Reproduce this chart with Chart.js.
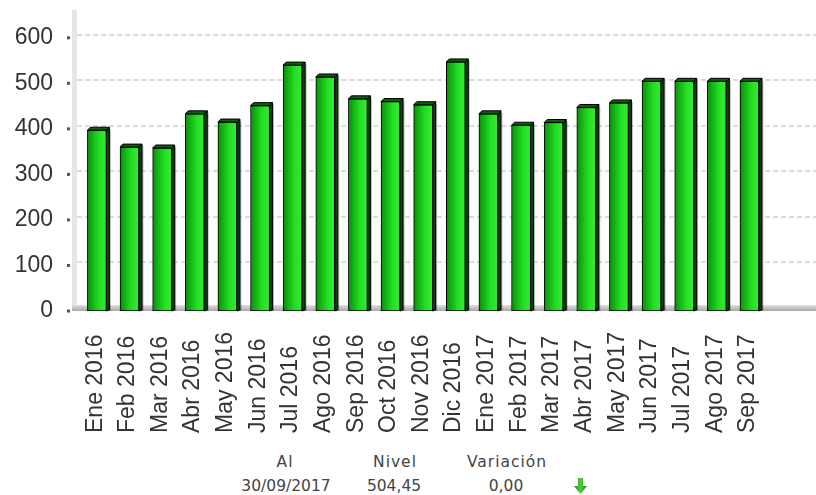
<!DOCTYPE html>
<html>
<head>
<meta charset="utf-8">
<script src="https://cdn.jsdelivr.net/npm/chart.js@4.4.1/dist/chart.umd.min.js"></script>
<style>
    body { margin: 0; background: #fff; }
    #wrap { position: relative; width: 816px; height: 495px; }
    #box { position: absolute; left: 0; top: 0; width: 816px; height: 445px; }
    .info { position: absolute; font-family: "DejaVu Sans", Verdana, sans-serif; font-size: 15.5px; color: #444; transform: translateX(-50%); white-space: nowrap; }
    .head { letter-spacing: 1px; }
    #arrow { position: absolute; left: 574px; top: 478px; }
</style>
</head>
<body>
<div id="wrap">
    <div id="box"><canvas id="chart"></canvas></div>
    <div class="info head" style="left:285px; top:453px;">Al</div>
    <div class="info head" style="left:395px; top:453px;">Nivel</div>
    <div class="info head" style="left:507px; top:453px;">Variación</div>
    <div class="info" style="left:286px; top:477px;">30/09/2017</div>
    <div class="info" style="left:394px; top:477px;">504,45</div>
    <div class="info" style="left:506px; top:477px;">0,00</div>
    <svg id="arrow" width="13" height="16" viewBox="0 0 13 16">
        <defs>
            <linearGradient id="ag" x1="0" y1="0" x2="1" y2="0">
                <stop offset="0" stop-color="#1c8a1c"/>
                <stop offset="0.5" stop-color="#4ccf3a"/>
                <stop offset="1" stop-color="#1f7a1f"/>
            </linearGradient>
        </defs>
        <polygon points="4,0 9,0 9,8 13,8 6.5,16 0,8 4,8" fill="url(#ag)"/>
    </svg>
</div>
<script>
const months = ["Ene 2016", "Feb 2016", "Mar 2016", "Abr 2016", "May 2016", "Jun 2016",
    "Jul 2016", "Ago 2016", "Sep 2016", "Oct 2016", "Nov 2016", "Dic 2016",
    "Ene 2017", "Feb 2017", "Mar 2017", "Abr 2017", "May 2017", "Jun 2017",
    "Jul 2017", "Ago 2017", "Sep 2017"];
const nivel = [397, 360, 358, 433, 415, 451, 540, 514, 466, 460, 453, 547,
    433, 408, 414, 447, 457, 504.45, 504.45, 504.45, 504.45];
const yTicks = [0, 100, 200, 300, 400, 500, 600];

const textColor = "#333";
const labelFont = '23px "Liberation Sans", Arial, sans-serif';

// fake 3D: wall, floor, dashed grid, tick marks, bar sides and x labels
const look3d = {
    id: "look3d",
    beforeDatasetsDraw(chart) {
        const { ctx, chartArea, scales } = chart;
        const y = scales.y;
        ctx.save();
        ctx.fillStyle = "#e6e6e6";
        ctx.fillRect(chartArea.left - 5, 10, 5, chartArea.bottom - 10);
        const fg = ctx.createLinearGradient(0, chartArea.bottom - 6, 0, chartArea.bottom);
        fg.addColorStop(0, "#e0e0e0");
        fg.addColorStop(1, "#a8a8a8");
        ctx.fillStyle = fg;
        ctx.fillRect(chartArea.left - 5, chartArea.bottom - 6, chartArea.right - chartArea.left + 5, 6);
        ctx.strokeStyle = "#dcdcdc";
        ctx.lineWidth = 2;
        ctx.setLineDash([5, 3]);
        yTicks.forEach((t) => {
            if (t === 0) return;
            const py = Math.round(y.getPixelForValue(t) - 3);
            ctx.beginPath();
            ctx.moveTo(chartArea.left, py);
            ctx.lineTo(chartArea.right, py);
            ctx.stroke();
        });
        ctx.setLineDash([]);
        ctx.fillStyle = "#555";
        yTicks.forEach((t) => {
            const py = y.getPixelForValue(t);
            ctx.fillRect(chartArea.left - 10, py - 1.5, 3, 3);
        });
        ctx.restore();
    },
    afterDatasetsDraw(chart) {
        const { ctx } = chart;
        const d = 3;
        ctx.save();
        ctx.lineWidth = 1;
        chart.getDatasetMeta(0).data.forEach((bar) => {
            const l = bar.x - bar.width / 2;
            const r = bar.x + bar.width / 2;
            const top = bar.y;
            const base = bar.base;
            // shadow
            ctx.fillStyle = "rgba(0,0,0,0.25)";
            ctx.fillRect(r + d, top - d + 2, 1.5, base - top + d - 2);
            // side
            ctx.fillStyle = "#0b420b";
            ctx.strokeStyle = "#000";
            ctx.beginPath();
            ctx.moveTo(r, top);
            ctx.lineTo(r + d, top - d);
            ctx.lineTo(r + d, base - 1);
            ctx.lineTo(r, base);
            ctx.closePath();
            ctx.fill();
            ctx.stroke();
            // top
            ctx.fillStyle = "#0f5e0f";
            ctx.beginPath();
            ctx.moveTo(l, top);
            ctx.lineTo(l + d, top - d);
            ctx.lineTo(r + d, top - d);
            ctx.lineTo(r, top);
            ctx.closePath();
            ctx.fill();
            ctx.stroke();
        });
        ctx.restore();
    },
    afterDraw(chart) {
        const { ctx, scales } = chart;
        ctx.save();
        ctx.font = labelFont;
        ctx.fillStyle = textColor;
        ctx.textAlign = "left";
        ctx.textBaseline = "alphabetic";
        months.forEach((m, i) => {
            const px = scales.x.getPixelForValue(i);
            ctx.save();
            ctx.translate(px + 4.7, 433);
            ctx.rotate(-Math.PI / 2);
            ctx.fillText(m, 0, 0);
            ctx.restore();
        });
        ctx.restore();
    },
};

function barFill(c) {
    const chart = c.chart;
    const xs = chart.scales.x;
    if (!xs || !c.raw) return "#1ec81e";
    const px = xs.getPixelForValue(c.raw.x);
    if (!Number.isFinite(px)) return "#1ec81e";
    const g = chart.ctx.createLinearGradient(px - 10, 0, px + 10, 0);
    g.addColorStop(0, "#078c07");
    g.addColorStop(0.6, "#24de24");
    g.addColorStop(1, "#34ee34");
    return g;
}

new Chart(document.getElementById("chart"), {
    type: "bar",
    data: {
        datasets: [{
            label: "Nivel",
            data: nivel.map((v, i) => ({ x: i, y: v })),
            backgroundColor: barFill,
            borderColor: "#000",
            borderWidth: 1,
            borderSkipped: false,
            barThickness: 19,
        }],
    },
    options: {
        responsive: true,
        maintainAspectRatio: false,
        animation: false,
        layout: { padding: { top: 34, bottom: 134, left: 0, right: 0 } },
        scales: {
            x: {
                type: "linear",
                display: false,
                min: -0.61,
                max: 22.04,
                offset: false,
            },
            y: {
                min: 0,
                max: 600,
                afterFit: (s) => { s.width = 77; },
                grid: { display: false, drawTicks: false },
                border: { display: false },
                ticks: {
                    stepSize: 100,
                    padding: 24,
                    color: textColor,
                    font: { family: '"Liberation Sans", Arial, sans-serif', size: 23 },
                },
            },
        },
        plugins: {
            legend: { display: false },
            tooltip: { enabled: false },
        },
    },
    plugins: [look3d],
});
</script>
</body>
</html>
